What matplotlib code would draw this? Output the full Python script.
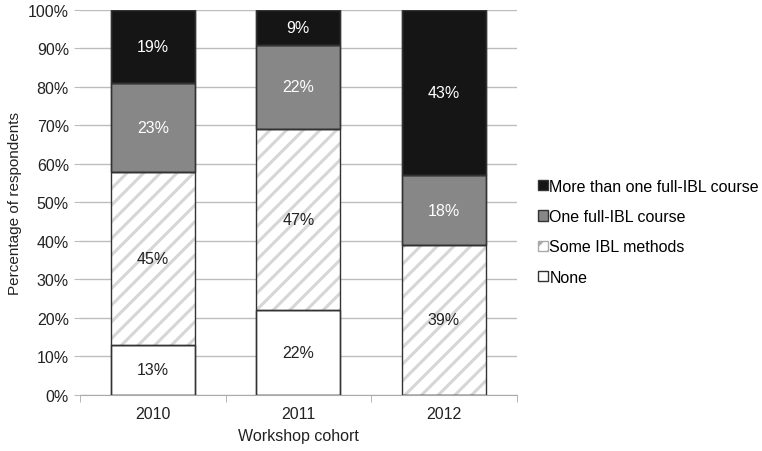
import numpy as np
import matplotlib
matplotlib.use('Agg')
import matplotlib.pyplot as plt
from matplotlib.patches import Patch

plt.rcParams['font.family'] = ['Liberation Sans', 'DejaVu Sans']
plt.rcParams['hatch.linewidth'] = 2.2

cohorts = ['2010', '2011', '2012']
none_ = [13, 22, 0]
some_ibl = [45, 47, 39]
one_full = [23, 22, 18]
more_full = [19, 9, 43]

series = [
    ('None', none_, 'white', None, '#222222'),
    ('Some IBL methods', some_ibl, 'white', '//', '#222222'),
    ('One full-IBL course', one_full, '#878787', None, 'white'),
    ('More than one full-IBL course', more_full, '#151515', None, 'white'),
]

FS = 11.5
fig = plt.figure(figsize=(7.62, 4.52), dpi=100)
ax = fig.add_axes([0.105, 0.124, 0.573, 0.852])

x = np.arange(len(cohorts))
bottom = np.zeros(len(cohorts))
handles = []
for name, vals, color, hatch, tcolor in series:
    vals = np.array(vals, dtype=float)
    ax.bar(x, vals, 0.575, bottom=bottom, color=color, hatch=hatch,
           edgecolor='#d6d6d6' if hatch else '#333333', linewidth=0 if hatch else 1.0,
           zorder=2)
    # outline drawn separately so hatch color stays light
    ax.bar(x, vals, 0.575, bottom=bottom, fill=False, edgecolor='#333333',
           linewidth=1.0, zorder=3)
    for xi, v, b in zip(x, vals, bottom):
        if v > 0:
            ax.text(xi, b + v / 2, f'{int(v)}%', ha='center', va='center',
                    color=tcolor, fontsize=FS, zorder=4)
    handles.append(Patch(facecolor=color, hatch=hatch,
                         edgecolor='#aaaaaa' if hatch else '#333333', label=name))
    bottom += vals

ax.set_xlim(-0.5, 2.5)
ax.set_ylim(0, 100)
ax.set_xticks(x)
ax.set_xticklabels(cohorts, fontsize=FS, color='#222222')
ax.set_xticks([-0.5, 0.5, 1.5, 2.5], minor=True)
ax.tick_params(axis='x', which='major', length=0, pad=8)
ax.tick_params(axis='x', which='minor', length=5, color='#aaaaaa')
ax.set_yticks(np.arange(0, 101, 10))
ax.set_yticklabels([f'{v}%' for v in range(0, 101, 10)], fontsize=FS, color='#222222')
ax.tick_params(axis='y', length=4, color='#bdbdbd', pad=4)
ax.grid(axis='y', color='#bdbdbd', linewidth=1.0, zorder=0)
for s in ['top', 'right', 'left']:
    ax.spines[s].set_visible(False)
ax.spines['bottom'].set_color('#aaaaaa')
ax.spines['bottom'].set_zorder(1)
ax.set_ylabel('Percentage of respondents', fontsize=11, color='#222222')
ax.yaxis.set_label_coords(-0.133, 0.5)
ax.set_xlabel('Workshop cohort', fontsize=FS, color='#222222', labelpad=5)

fig.legend(handles=handles[::-1], loc='center left', bbox_to_anchor=(0.6875, 0.485),
           frameon=False, fontsize=FS, handlelength=0.6, handleheight=0.6,
           handletextpad=0.1, labelspacing=0.95)

fig.savefig('out.png', dpi=100)
